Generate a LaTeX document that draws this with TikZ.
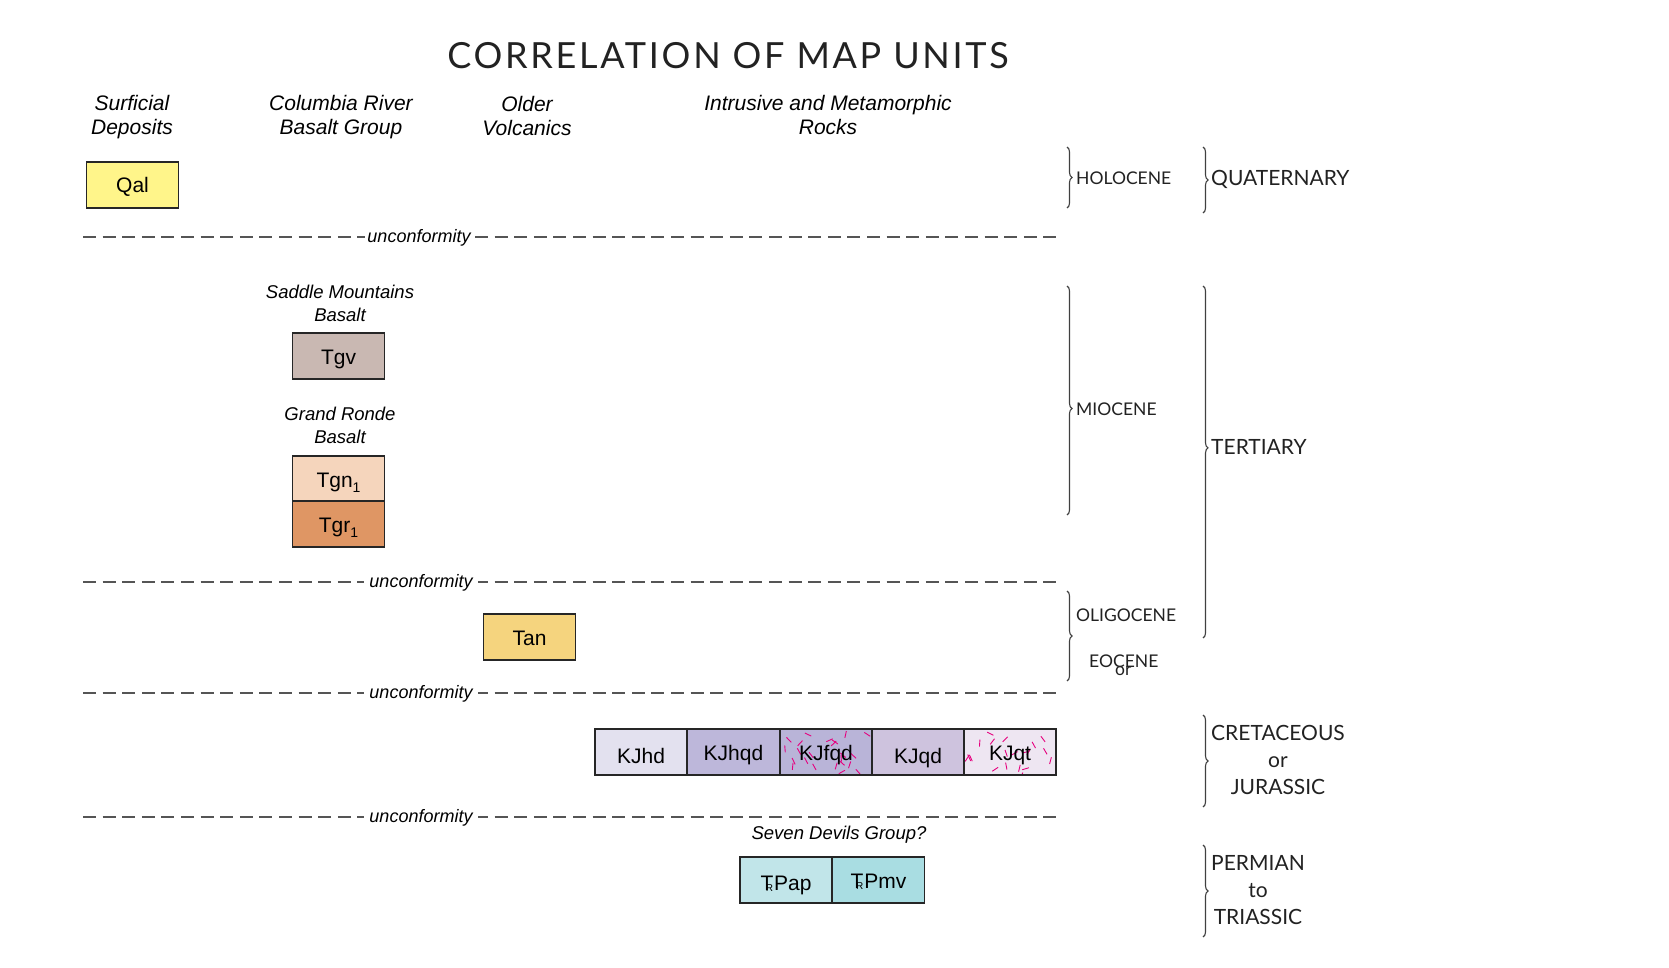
\documentclass[tikz,border=0pt]{standalone}
\usepackage{fontspec}
\setmainfont{Liberation Sans}
\newfontfamily\optima{Lato}
\newfontfamily\optimatitle[LetterSpace=7.5]{Lato}
\usetikzlibrary{decorations.pathreplacing}
\definecolor{cQal}{HTML}{FFF58A}
\definecolor{cTgv}{HTML}{C9B8B2}
\definecolor{cTgn}{HTML}{F5D5BC}
\definecolor{cTgr}{HTML}{DF9664}
\definecolor{cTan}{HTML}{F5D47E}
\definecolor{cKJhd}{HTML}{E3E1EF}
\definecolor{cKJhqd}{HTML}{BDB7DA}
\definecolor{cKJfqd}{HTML}{B9B4D8}
\definecolor{cKJqd}{HTML}{CEC3DE}
\definecolor{cKJqt}{HTML}{EEE6F2}
\definecolor{cTRap}{HTML}{C1E5E9}
\definecolor{cTRmv}{HTML}{A9DDE2}
\definecolor{cpink}{HTML}{E6007E}
\definecolor{cline}{HTML}{555555}
\definecolor{ctext}{HTML}{222222}
\newcommand{\sub}[1]{\raisebox{-0.28em}{\fontsize{14}{14}\selectfont #1}}
\newcommand{\TRsym}{T\kern-0.36em\raisebox{-0.08em}{\fontsize{10}{10}\selectfont R}\kern0.05em}
\begin{document}
\begin{tikzpicture}[x=1pt,y=-1pt,
  unitbox/.style={draw=black!85,line width=1.2pt,minimum width=92pt,minimum height=46pt,inner sep=0pt,text height=16pt,text depth=0pt,font=\fontsize{21}{25}\selectfont},
  head/.style={align=center,font=\fontsize{21}{24}\selectfont\itshape},
  subhead/.style={align=center,font=\fontsize{18.5}{23}\selectfont\itshape},
  unconf/.style={fill=white,inner sep=3pt,font=\fontsize{18}{20}\selectfont\itshape},
  contact/.style={draw=cline,line width=1.3pt,dash pattern=on 13pt off 6.6pt},
  era/.style={anchor=west,inner sep=0pt,text=ctext,font=\optima\fontsize{17.5}{20}\selectfont},
  period/.style={anchor=west,inner sep=0pt,align=center,text=ctext,font=\optima\fontsize{21}{27}\selectfont},
  brc/.style={draw=black!75,line width=1.1pt,decorate,decoration={brace,amplitude=5pt,aspect=#1}},
  brc/.default=0.5,
  kjpat/.style={path picture={
    \pgfmathsetseed{#1}
    \foreach \i in {1,...,24}{
      \pgfmathsetmacro\px{rnd*96}
      \pgfmathsetmacro\py{rnd*50}
      \pgfmathsetmacro\ang{90+(rnd-0.5)*150}
      \draw[cpink,line width=0.9pt] ([shift={(\px,\py)}]path picture bounding box.north west) -- ++(\ang:7);
    }}}
]
\useasboundingbox[fill=white] (0,0) rectangle (1669,968);

% title
\node[text=ctext,font=\optimatitle\fontsize{36}{40}\selectfont] (title) at (728,56) {CORRELATION OF MAP UNITS};

% column headings
\node[head] (h1) at (132,117) {Surficial\\Deposits};
\node[head] (h2) at (341,117) {Columbia River\\Basalt Group};
\node[head] (h3) at (527,116) {Older\\Volcanics};
\node[head] (h4) at (828,115) {Intrusive and Metamorphic\\Rocks};

% units
\node[unitbox,fill=cQal] (Qal) at (132.5,185) {Qal};

\node[subhead] (smb) at (340,303) {Saddle Mountains\\Basalt};
\node[unitbox,fill=cTgv] (Tgv) at (338.5,356) {Tgv};

\node[subhead] (grb) at (340,425) {Grand Ronde\\Basalt};
\node[unitbox,fill=cTgn] (Tgn) at (338.5,479) {Tgn\sub{1}};
\node[unitbox,fill=cTgr] (Tgr) at (338.5,524) {Tgr\sub{1}};

\node[unitbox,fill=cTan] (Tan) at (529.5,637) {Tan};

\node[unitbox,fill=cKJhd] (KJhd) at (641,752) {\raisebox{-3pt}{KJhd}};
\node[unitbox,fill=cKJhqd] (KJhqd) at (733.5,752) {KJhqd};
\node[unitbox,fill=cKJfqd,kjpat=11] (KJfqd) at (826,752) {KJfqd};
\node[unitbox,fill=cKJqd] (KJqd) at (918,752) {\raisebox{-3pt}{KJqd}};
\node[unitbox,fill=cKJqt,kjpat=5] (KJqt) at (1010,752) {KJqt};

\node[subhead] (sdg) at (839,835) {Seven Devils Group?};
\node[unitbox,fill=cTRap] (TRap) at (786,880) {\raisebox{-2pt}{\TRsym Pap}};
\node[unitbox,fill=cTRmv] (TRmv) at (878.5,880) {\TRsym Pmv};

% unconformities
\coordinate (u1a) at (83,237);  \coordinate (u1b) at (1062,237);
\coordinate (u2a) at (83,582);  \coordinate (u2b) at (1058,582);
\coordinate (u3a) at (83,693);  \coordinate (u3b) at (1058,693);
\coordinate (u4a) at (83,817);  \coordinate (u4b) at (1058,817);
\draw[contact] (u1a) -- (u1b);
\draw[contact] (u2a) -- (u2b);
\draw[contact] (u3a) -- (u3b);
\draw[contact] (u4a) -- (u4b);
\node[unconf,inner xsep=2pt] (l1) at (419,238) {unconformity};
\node[unconf,inner xsep=5pt] (l2) at (421,583) {unconformity};
\node[unconf,inner xsep=5pt] (l3) at (421,694) {unconformity};
\node[unconf,inner xsep=5pt] (l4) at (421,818) {unconformity};

% epoch braces
\coordinate (bHa) at (1067,147); \coordinate (bHb) at (1067,208);
\coordinate (bMa) at (1067,286); \coordinate (bMb) at (1067,515);
\coordinate (bOa) at (1067,591); \coordinate (bOb) at (1067,681);
\draw[brc] (bHa) -- (bHb);
\draw[brc=0.535] (bMa) -- (bMb);
\draw[brc] (bOa) -- (bOb);
\node[era] (hol) at (1076,178) {HOLOCENE};
\node[era] (mio) at (1076,409) {MIOCENE};
\node[era] (oli) at (1076,615) {OLIGOCENE};
\node[era] (eoc) at (1089,661) {EOCENE};
\node[era] (or1) at (1115,671) {or};

% period braces
\coordinate (pQa) at (1203,147); \coordinate (pQb) at (1203,213);
\coordinate (pTa) at (1203,286); \coordinate (pTb) at (1203,638);
\coordinate (pKa) at (1203,715); \coordinate (pKb) at (1203,807);
\coordinate (pPa) at (1203,845); \coordinate (pPb) at (1203,937);
\draw[brc] (pQa) -- (pQb);
\draw[brc=0.46] (pTa) -- (pTb);
\draw[brc] (pKa) -- (pKb);
\draw[brc] (pPa) -- (pPb);
\node[period] (qua) at (1211,179) {QUATERNARY};
\node[period] (ter) at (1211,447) {TERTIARY};
\node[period] (kj) at (1211,760) {CRETACEOUS\\or\\JURASSIC};
\node[period] (pt) at (1211,890) {PERMIAN\\to\\TRIASSIC};
\end{tikzpicture}
\end{document}
